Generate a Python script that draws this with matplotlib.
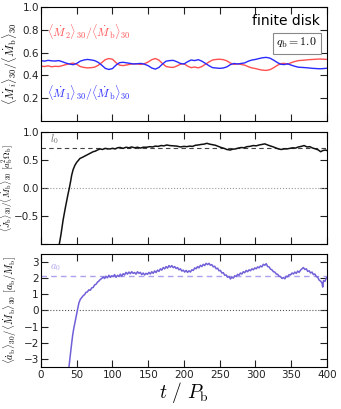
import matplotlib
matplotlib.use("Agg")
import matplotlib.pyplot as plt
import numpy as np

plt.rcParams['mathtext.fontset'] = 'cm'
plt.rcParams['font.family'] = ['DejaVu Sans']

# ---------------- data ----------------
t1 = list(range(0, 401, 5))
mdot1 = [0.530, 0.525, 0.532, 0.528, 0.526, 0.530, 0.520, 0.508, 0.500, 0.494,
         0.505, 0.525, 0.535, 0.540, 0.536, 0.530, 0.515, 0.490, 0.462, 0.452,
         0.460, 0.490, 0.512, 0.515, 0.510, 0.505, 0.500, 0.503, 0.505, 0.498,
         0.485, 0.465, 0.455, 0.470, 0.500, 0.525, 0.530, 0.532, 0.520, 0.505,
         0.500, 0.520, 0.535, 0.530, 0.538, 0.525, 0.505, 0.485, 0.468, 0.465,
         0.462, 0.465, 0.475, 0.495, 0.505, 0.500, 0.505, 0.510, 0.525, 0.535,
         0.540, 0.548, 0.555, 0.558, 0.552, 0.535, 0.515, 0.498, 0.495, 0.502,
         0.490, 0.480, 0.472, 0.470, 0.468, 0.465, 0.462, 0.460, 0.458, 0.460,
         0.463]
mdot2 = [0.482, 0.478, 0.484, 0.476, 0.480, 0.478, 0.486, 0.495, 0.502, 0.508,
         0.498, 0.478, 0.470, 0.466, 0.468, 0.472, 0.488, 0.512, 0.538, 0.548,
         0.542, 0.512, 0.490, 0.486, 0.492, 0.498, 0.502, 0.500, 0.496, 0.504,
         0.518, 0.538, 0.548, 0.534, 0.504, 0.478, 0.472, 0.470, 0.482, 0.498,
         0.502, 0.482, 0.468, 0.474, 0.466, 0.478, 0.498, 0.518, 0.535, 0.540,
         0.542, 0.538, 0.528, 0.508, 0.496, 0.502, 0.496, 0.490, 0.476, 0.466,
         0.460, 0.452, 0.446, 0.444, 0.450, 0.466, 0.486, 0.503, 0.506, 0.498,
         0.512, 0.522, 0.530, 0.532, 0.535, 0.538, 0.540, 0.542, 0.544, 0.542,
         0.540]

t2 = [25.7, 28, 31, 34, 36, 38, 39.7, 41.5, 43, 45, 47.6, 50, 54.6, 58, 61, 64, 67, 70,
      73, 76, 79, 82.6, 86, 90, 93, 96.6, 100, 104, 107, 110.6, 115, 119, 123, 127,
      131, 135, 139, 143, 148, 152, 156, 160, 164, 168, 172, 176, 180, 185, 190, 195,
      200, 204, 208, 212, 216, 220, 224, 228, 232, 236, 240, 244, 248, 252, 256, 260,
      264.6, 268, 272, 276, 280, 284, 288, 292, 297, 301, 305, 309, 313, 317, 320,
      324, 328, 332, 336, 340, 344, 348, 352, 356, 360, 364, 368, 372, 376, 380, 384,
      388, 391, 394, 397.6, 400]
jdot = [-1.0, -0.83, -0.57, -0.36, -0.23, -0.1, 0.0, 0.12, 0.23, 0.33, 0.41, 0.46,
        0.53, 0.55, 0.57, 0.59, 0.61, 0.63, 0.65, 0.66, 0.68, 0.70, 0.69, 0.71, 0.70,
        0.70, 0.71, 0.70, 0.72, 0.726, 0.71, 0.73, 0.72, 0.735, 0.72, 0.73, 0.715,
        0.73, 0.73, 0.74, 0.735, 0.75, 0.745, 0.76, 0.755, 0.77, 0.76, 0.755, 0.75,
        0.735, 0.745, 0.74, 0.75, 0.745, 0.765, 0.77, 0.78, 0.785, 0.80, 0.785, 0.775,
        0.765, 0.745, 0.725, 0.71, 0.69, 0.68, 0.695, 0.70, 0.715, 0.725, 0.72, 0.74,
        0.745, 0.76, 0.755, 0.77, 0.78, 0.79, 0.77, 0.756, 0.74, 0.72, 0.70, 0.69,
        0.70, 0.70, 0.71, 0.72, 0.715, 0.735, 0.745, 0.76, 0.735, 0.74, 0.715, 0.70,
        0.68, 0.65, 0.67, 0.68, 0.67]
l0 = 0.71

t3 = [39.2, 41, 43, 44.5, 46, 48, 50, 51, 53, 55, 57, 59, 61, 63, 65, 67, 69, 71, 73,
      75, 77, 79, 81, 83, 85, 87, 89, 91, 93, 95, 97, 99, 101, 103, 105, 107, 109, 111,
      113, 115, 117, 119, 121, 123, 125, 127, 129, 131, 133, 135, 137, 139, 141, 143,
      145, 147, 149, 151, 153, 155, 157, 159, 161, 163, 165, 167, 169, 171, 173, 175,
      177, 179, 181, 183, 185, 187, 189, 191, 193, 195, 197, 199, 201, 203, 205, 207,
      209, 211, 213, 215, 217, 219, 221, 223, 225, 227, 229, 231, 233, 235, 237, 239,
      241, 243, 245, 247, 249, 251, 253, 255, 257, 259, 261, 263, 265, 267, 269, 271,
      273, 275, 277, 279, 281, 283, 285, 287, 289, 291, 293, 295, 297, 299, 301, 303,
      305, 307, 309, 311, 313, 315, 317, 319, 321, 323, 325, 327, 329, 331, 333, 335,
      337, 339, 341, 343, 345, 347, 349, 351, 353, 355, 357, 359, 361, 363, 365, 367,
      369, 371, 373, 375, 377, 379, 381, 383, 385, 387, 389, 391, 393, 394, 395, 397,
      399, 400]
adot = [-3.5, -2.8, -2.03, -1.5, -1.1, -0.65, -0.2, 0.0, 0.45, 0.68, 0.8, 0.91, 0.98,
        1.12, 1.15, 1.28, 1.25, 1.40, 1.42, 1.58, 1.62, 1.75, 1.82, 1.92, 1.98, 2.07,
        1.98, 2.12, 2.02, 2.18, 2.05, 2.15, 2.10, 2.22, 2.05, 2.18, 2.10, 2.25, 2.12,
        2.28, 2.20, 2.36, 2.25, 2.38, 2.28, 2.40, 2.30, 2.35, 2.25, 2.40, 2.30, 2.36,
        2.22, 2.32, 2.20, 2.30, 2.24, 2.36, 2.26, 2.40, 2.30, 2.45, 2.35, 2.50, 2.42,
        2.58, 2.50, 2.66, 2.58, 2.72, 2.62, 2.78, 2.68, 2.78, 2.65, 2.72, 2.60, 2.66,
        2.52, 2.58, 2.44, 2.50, 2.38, 2.48, 2.36, 2.46, 2.38, 2.52, 2.48, 2.64, 2.58,
        2.72, 2.64, 2.80, 2.72, 2.86, 2.78, 2.92, 2.84, 2.92, 2.80, 2.84, 2.70, 2.74,
        2.58, 2.62, 2.46, 2.48, 2.32, 2.34, 2.18, 2.20, 2.06, 2.10, 1.95, 2.08, 2.00,
        2.15, 2.10, 2.24, 2.18, 2.32, 2.26, 2.40, 2.34, 2.48, 2.40, 2.52, 2.46, 2.58,
        2.52, 2.64, 2.58, 2.70, 2.64, 2.76, 2.70, 2.86, 2.80, 2.90, 2.72, 2.70, 2.56,
        2.52, 2.40, 2.38, 2.26, 2.24, 2.12, 2.10, 1.98, 2.04, 1.96, 2.12, 2.08, 2.22,
        2.20, 2.32, 2.26, 2.38, 2.30, 2.44, 2.36, 2.50, 2.58, 2.66, 2.54, 2.58, 2.42,
        2.46, 2.32, 2.38, 2.22, 2.26, 2.10, 2.06, 1.88, 1.82, 1.70, 1.45, 1.85, 1.80,
        2.00, 2.05]
a0 = 2.15

xticks = [0, 50, 100, 150, 200, 250, 300, 350, 400]

# ---------------- figure ----------------
fig = plt.figure(figsize=(3.41, 4.09), dpi=100)
L, W = 0.120, 0.839
ax1 = fig.add_axes([L, 0.704, W, 0.279])
ax2 = fig.add_axes([L, 0.403, W, 0.274])
ax3 = fig.add_axes([L, 0.103, W, 0.276])

for ax in (ax1, ax2, ax3):
    ax.set_xlim(0, 400)
    ax.set_xticks(xticks)
    ax.tick_params(direction='in', top=True, right=True, length=5, width=0.8,
                   labelsize=7.5, colors='#222222', pad=2)
    ax.tick_params(axis='y', pad=1.5)
    for s in ax.spines.values():
        s.set_linewidth(0.8)

# panel 1
ax1.plot(t1, mdot2, color='#ff5050', lw=1.0)
ax1.plot(t1, mdot1, color='#2a2aff', lw=1.0)
ax1.set_ylim(0, 1.0)
ax1.set_yticks([0.2, 0.4, 0.6, 0.8, 1.0])
ax1.set_yticklabels(['0.2', '0.4', '0.6', '0.8', '1.0'])
ax1.set_xticklabels([])
ax1.set_ylabel(r'$\langle \dot M_i\rangle_{30}/\langle \dot M_{\rm b}\rangle_{30}$',
               fontsize=8.5)
ax1.text(8, 0.78, r'$\langle \dot M_2\rangle_{30}/\langle \dot M_{\rm b}\rangle_{30}$',
         color='#ff5050', fontsize=8.5, va='center')
ax1.text(8, 0.24, r'$\langle \dot M_1\rangle_{30}/\langle \dot M_{\rm b}\rangle_{30}$',
         color='#2a2aff', fontsize=8.5, va='center')
ax1.text(0.975, 0.88, 'finite disk', transform=ax1.transAxes, ha='right', va='center',
         fontsize=10)
ax1.text(0.965, 0.68, r'$q_{\rm b}=1.0$', transform=ax1.transAxes, ha='right',
         va='center', fontsize=8.5,
         bbox=dict(boxstyle='square,pad=0.3', fc='white', ec='#888888', lw=0.8))

# panel 2
ax2.axhline(0, color='#999999', lw=0.8, ls=':')
ax2.axhline(l0, color='#444444', lw=0.8, ls=(0, (4, 3)))
ax2.plot(t2, jdot, color='#111111', lw=1.1)
ax2.set_ylim(-1.0, 1.0)
ax2.set_yticks([-1.0, -0.5, 0.0, 0.5, 1.0])
ax2.set_yticklabels(['', '\u22120.5', '0.0', '0.5', '1.0'])
ax2.set_xticklabels([])
ax2.set_ylabel(r'$\langle \dot J_{\rm b}\rangle_{30}/\langle \dot M_{\rm b}\rangle_{30}\ [a_{\rm b}^2\Omega_{\rm b}]$',
               fontsize=6.5)
ax2.text(13, l0 + 0.04, r'$l_0$', color='#666666', fontsize=7.5, va='bottom')

# panel 3
ax3.axhline(0, color='#555555', lw=0.8, ls=':')
ax3.axhline(a0, color='#aaa2ee', lw=1.0, ls=(0, (4, 3)))
ax3.plot(t3, adot, color='#7060d8', lw=1.1)
ax3.set_ylim(-3.5, 3.5)
ax3.set_yticks([-3, -2, -1, 0, 1, 2, 3])
ax3.set_yticklabels(['\u22123', '\u22122', '\u22121', '0', '1', '2', '3'])
ax3.set_xticklabels([str(v) for v in xticks])
ax3.set_ylabel(r'$\langle \dot a_{\rm b}\rangle_{30}/\langle \dot M_{\rm b}\rangle_{30}\ [a_{\rm b}/M_{\rm b}]$',
               fontsize=7.5)
ax3.text(13, a0 + 0.15, r'$a_0$', color='#aaa2ee', fontsize=7.5, va='bottom')
ax3.set_xlabel(r'$t\ /\ P_{\rm b}$', fontsize=14, labelpad=0)

ax1.yaxis.set_label_coords(-0.072, 0.5)
ax2.yaxis.set_label_coords(-0.089, 0.5)
ax3.yaxis.set_label_coords(-0.078, 0.5)

fig.savefig('out.png', dpi=100)
